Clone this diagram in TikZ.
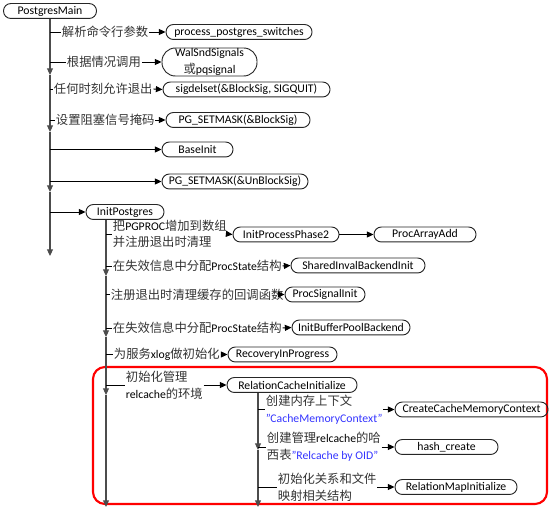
\documentclass[tikz,border=0pt]{standalone}
\usepackage{fontspec}
\setmainfont{Carlito}
\newfontfamily\zhfont{Noto Sans CJK SC}[Scale=1.05]
\usetikzlibrary{arrows.meta}
\definecolor{qblue}{RGB}{51,51,255}
\newcommand\zh[1]{{\zhfont\color{black!80}#1}}
\begin{document}
\begin{tikzpicture}[x=0.75pt,y=-0.75pt,
  every node/.style={font=\fontsize{8.8}{12.5}\selectfont},
  pill/.style={draw=black!85, line width=0.7pt, rounded corners=5.5pt, minimum width=#1*0.75pt, minimum height=11.2pt, inner sep=0pt},
  lbl/.style={anchor=west, inner sep=0.5pt, align=left},
  conn/.style={draw=black, line width=0.7pt},
  arr/.style={conn, -{Triangle[length=5pt,width=4.5pt]}},
  tip/.style={draw=black!70, line width=0.8pt, -{Triangle[length=5pt,width=4.5pt]}}
]
\useasboundingbox (0,0) rectangle (550,509);

% red highlight frame
\draw[red, line width=1.6pt, rounded corners=9pt] (93,367) rectangle (547,504);

% ---------- PostgresMain ----------
\node[pill=93] (pm) at (50,11) {PostgresMain};
\coordinate (m1) at (50,32);
\coordinate (m2) at (50,62);
\coordinate (m3) at (50,89);
\coordinate (m4) at (50,120);
\coordinate (m5) at (50,149.5);
\coordinate (m6) at (50,181.5);
\coordinate (m7) at (50,212);
\coordinate (ma1) at (50,75);
\coordinate (ma2) at (50,132);
\coordinate (ma3) at (50,192);
\coordinate (mend) at (50,256);
\draw[tip] (pm.south) -- (ma1);
\draw[tip] (ma1) -- (ma2);
\draw[tip] (ma2) -- (ma3);
\draw[tip] (ma3) -- (mend);

\node[lbl] (t1) at (61,32) {\zh{解析命令行参数}};
\node[pill=146] (b1) at (239,32) {process\_postgres\_switches};
\draw[conn] (m1) -- (t1.west);
\draw[arr] (t1.east) -- (b1.west);

\node[lbl] (t2) at (66,62) {\zh{根据情况调用}};
\node[pill=95, minimum height=21pt, rounded corners=10pt, align=center] (b2) at (209.5,62) {WalSndSignals\\\zh{或}pqsignal};
\draw[conn] (m2) -- (t2.west);
\draw[arr] (t2.east) -- (b2.west);

\node[lbl] (t3) at (53,89) {\zh{任何时刻允许退出}};
\node[pill=167] (b3) at (246.5,89.5) {sigdelset(\&BlockSig, SIGQUIT)};
\draw[conn] (m3) -- (t3.west);
\draw[arr] (t3.east) -- (b3.west);

\node[lbl] (t4) at (55,120) {\zh{设置阻塞信号掩码}};
\node[pill=144] (b4) at (238,120) {PG\_SETMASK(\&BlockSig)};
\draw[conn] (m4) -- (t4.west);
\draw[arr] (t4.east) -- (b4.west);

\node[pill=71] (b5) at (197.5,149.5) {BaseInit};
\draw[arr] (m5) -- (b5.west);

\node[pill=146] (b6) at (235,181.5) {PG\_SETMASK(\&UnBlockSig)};
\draw[arr] (m6) -- (b6.west);

\node[pill=78] (ip) at (125,212) {InitPostgres};
\draw[arr] (m7) -- (ip.west);

% ---------- InitPostgres ----------
\coordinate (n1) at (106,234);
\coordinate (n2) at (106,266);
\coordinate (n3) at (106,294.5);
\coordinate (n4) at (106,328);
\coordinate (n5) at (106,354.5);
\coordinate (n6) at (106,385);
\coordinate (na1) at (106,276);
\coordinate (na2) at (106,337);
\coordinate (na3) at (106,395);
\coordinate (nend) at (106,507);
\draw[tip] (ip.south -| n1) -- (na1);
\draw[tip] (na1) -- (na2);
\draw[tip] (na2) -- (na3);
\draw[tip] (na3) -- (nend);

\node[lbl] (t8) at (112,234) {\zh{把}PGPROC\zh{增加到数组}\\\zh{并注册退出时清理}};
\node[pill=106] (b8) at (286,234.5) {InitProcessPhase2};
\node[pill=102] (b9) at (425,234.5) {ProcArrayAdd};
\draw[conn] (n1) -- (t8.west);
\draw[arr] (t8.east) -- (b8.west);
\draw[arr] (b8.east) -- (b9.west);

\node[lbl] (t10) at (112,266) {\zh{在失效信息中分配}ProcState\zh{结构}};
\node[pill=134] (b10) at (358,265.5) {SharedInvalBackendInit};
\draw[conn] (n2) -- (t10.west);
\draw[arr] (t10.east) -- (b10.west);

\node[lbl] (t11) at (110,294.5) {\zh{注册退出时清理缓存的回调函数}};
\node[pill=80] (b11) at (325,294.5) {ProcSignalInit};
\draw[conn] (n3) -- (t11.west);
\draw[arr] (t11.east) -- (b11.west);

\node[lbl] (t12) at (112,328) {\zh{在失效信息中分配}ProcState\zh{结构}};
\node[pill=118] (b12) at (351,327.5) {InitBufferPoolBackend};
\draw[conn] (n4) -- (t12.west);
\draw[arr] (t12.east) -- (b12.west);

\node[lbl] (t13) at (113,354.5) {\zh{为服务}xlog\zh{做初始化}};
\node[pill=109] (b13) at (282.5,354.5) {RecoveryInProgress};
\draw[conn] (n5) -- (t13.west);
\draw[arr] (t13.east) -- (b13.west);

\node[lbl] (t14) at (125,385) {\zh{初始化管理}\\relcache\zh{的环境}};
\node[pill=130] (b14) at (292,385) {RelationCacheInitialize};
\draw[conn] (n6) -- (t14.west);
\draw[arr] (t14.east) -- (b14.west);

% ---------- RelationCacheInitialize ----------
\coordinate (r1) at (258,409.5);
\coordinate (r2) at (258,447);
\coordinate (r3) at (258,487);
\coordinate (ra1) at (258,450);
\coordinate (rend) at (258,507);
\draw[tip] (b14.south -| r1) -- (ra1);
\draw[tip] (ra1) -- (rend);

\node[lbl] (t15) at (265,409.5) {\zh{创建内存上下文}\\\textcolor{qblue}{"CacheMemoryContext"}};
\node[pill=153] (b15) at (471.5,409.5) {CreateCacheMemoryContext};
\draw[conn] (r1) -- (t15.west);
\draw[arr] (t15.east) -- (b15.west);

\node[lbl] (t16) at (266,447) {\zh{创建管理}relcache\zh{的哈}\\\zh{西表}\textcolor{qblue}{"Relcache by OID"}};
\node[pill=103] (b16) at (446.5,447) {hash\_create};
\draw[conn] (r2) -- (t16.west);
\draw[arr] (t16.east) -- (b16.west);

\node[lbl] (t17) at (277,487) {\zh{初始化关系和文件}\\\zh{映射相关结构}};
\node[pill=122] (b17) at (456,487) {RelationMapInitialize};
\draw[conn] (r3) -- (t17.west);
\draw[arr] (t17.east) -- (b17.west);
\end{tikzpicture}
\end{document}
